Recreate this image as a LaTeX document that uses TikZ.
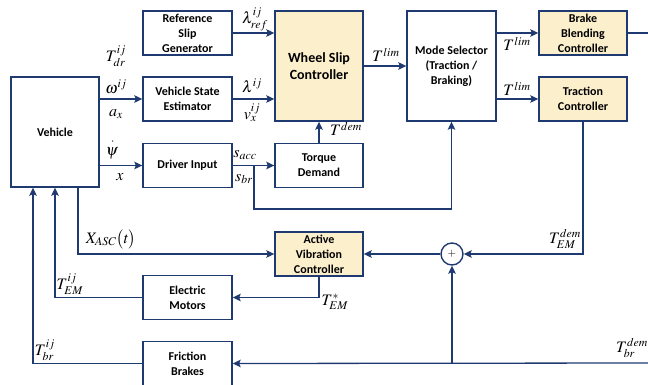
\documentclass[tikz,border=0pt]{standalone}
\usepackage{mathptmx}
\usepackage[no-math]{fontspec}
\setmainfont{Carlito}
\usetikzlibrary{arrows.meta,positioning,calc}
\definecolor{navy}{HTML}{1F3A70}
\definecolor{ctrlfill}{HTML}{FCEFCC}

\begin{document}
\begin{tikzpicture}[x=1pt,y=-1pt,
    blk/.style={draw=navy, line width=1.4pt, fill=white, align=center, inner sep=0pt,
        font=\fontsize{12}{15}\selectfont\bfseries, minimum width=89pt, minimum height=44pt},
    ctrl/.style={blk, fill=ctrlfill},
    sig/.style={navy, line width=1.3pt, -{Stealth[length=8pt,width=7.5pt,inset=1.5pt]}},
    wire/.style={navy, line width=1.3pt},
    lbl/.style={font=\fontsize{16}{16}\selectfont, inner sep=0pt}]
    \useasboundingbox (0,0) rectangle (648,385);

    % Blocks
    \node[blk, minimum height=110pt, minimum width=88pt] (veh) at (55,132) {Vehicle};
    \node[blk] (rsg) at (187.5,33) {Reference\\Slip\\Generator};
    \node[blk] (vse) at (187.5,99) {Vehicle State\\Estimator};
    \node[blk] (drv) at (187.5,165.5) {Driver Input};
    \node[ctrl, minimum height=110pt, minimum width=88pt,
        font=\fontsize{14}{17}\selectfont\bfseries] (wsc) at (319,66) {Wheel Slip\\Controller};
    \node[blk, minimum width=88pt] (tqd) at (319,165.5) {Torque\\Demand};
    \node[blk, minimum height=110pt] (mode) at (451.5,66) {Mode Selector\\(Traction /\\Braking)};
    \node[ctrl, minimum width=88pt] (bbc) at (583,33) {Brake\\Blending\\Controller};
    \node[ctrl, minimum width=88pt] (trc) at (583,99) {Traction\\Controller};
    \node[ctrl, minimum width=88pt] (avc) at (319,254) {Active\\Vibration\\Controller};
    \node[blk] (em) at (187.5,297.5) {Electric\\Motors};
    \node[blk] (fb) at (187.5,363.5) {Friction\\Brakes};
    \node[draw=navy, line width=1.4pt, circle, minimum size=22pt, inner sep=0pt,
        font=\fontsize{11}{11}\selectfont] (sum) at (452,254) {$+$};

    % Free ends at the right border
    \coordinate (bbcout) at (648,33);
    \coordinate (brin) at (648,363);
    \coordinate (split) at (254,165.5);

    % Upper signal paths
    \draw[sig] (rsg.east) -- (rsg.east -| wsc.west);
    \draw[sig] (veh.east |- vse.west) -- (vse.west);
    \draw[sig] (vse.east) -- (vse.east -| wsc.west);
    \draw[sig] (veh.east |- drv.west) -- (drv.west);
    \draw[sig] (drv.east) -- (tqd.west);
    \draw[sig] (tqd.north) -- (wsc.south);
    \draw[sig] (split) -- ++(0,43.5) -| (mode.south);
    \draw[sig] (wsc.east) -- (mode.west);
    \draw[sig] (mode.east |- bbc.west) -- (bbc.west);
    \draw[sig] (mode.east |- trc.west) -- (trc.west);
    \draw[wire] (bbc.east) -- (bbcout);

    % Lower signal paths
    \draw[sig] (brin) -- (fb.east);
    \draw[sig] (sum |- brin) -- (sum.south);
    \draw[sig] (trc.south) |- (sum.east);
    \draw[sig] (sum.west) -- (avc.east);
    \draw[sig] ($(veh.south)+(23,0)$) |- (avc.west);
    \draw[sig] (avc.south) |- (em.east);
    \draw[sig] (em.west) -| (veh.south);
    \draw[sig] (fb.west) -| ($(veh.south)+(-22,0)$);

    % Signal names
    \node[lbl] at (116,56) {$T_{dr}^{ij}$};
    \node[lbl] at (116,87) {$\omega^{ij}$};
    \node[lbl] at (116,114) {$a_{x}$};
    \node[lbl] at (112,148) {$\stackrel{\cdot}{\psi}$};
    \node[lbl] at (120,177) {$x$};
    \node[lbl] at (255,19) {$\lambda_{ref}^{ij}$};
    \node[lbl] at (252,86) {$\lambda^{ij}$};
    \node[lbl] at (252,113) {$v_{x}^{ij}$};
    \node[lbl] at (245,155) {$s_{acc}$};
    \node[lbl] at (244,179) {$s_{br}$};
    \node[lbl] at (346,129) {$T^{dem}$};
    \node[lbl] at (386,55) {$T^{lim}$};
    \node[lbl] at (517,44) {$T^{lim}$};
    \node[lbl] at (517,89) {$T^{lim}$};
    \node[lbl] at (565,239) {$T_{EM}^{dem}$};
    \node[lbl] at (632,348) {$T_{br}^{dem}$};
    \node[lbl] at (111,239) {$X_{ASC}\bigl(t\bigr)$};
    \node[lbl] at (335,302) {$T_{EM}^{*}$};
    \node[lbl] at (70,284) {$T_{EM}^{ij}$};
    \node[lbl] at (45,350) {$T_{br}^{ij}$};
\end{tikzpicture}
\end{document}
